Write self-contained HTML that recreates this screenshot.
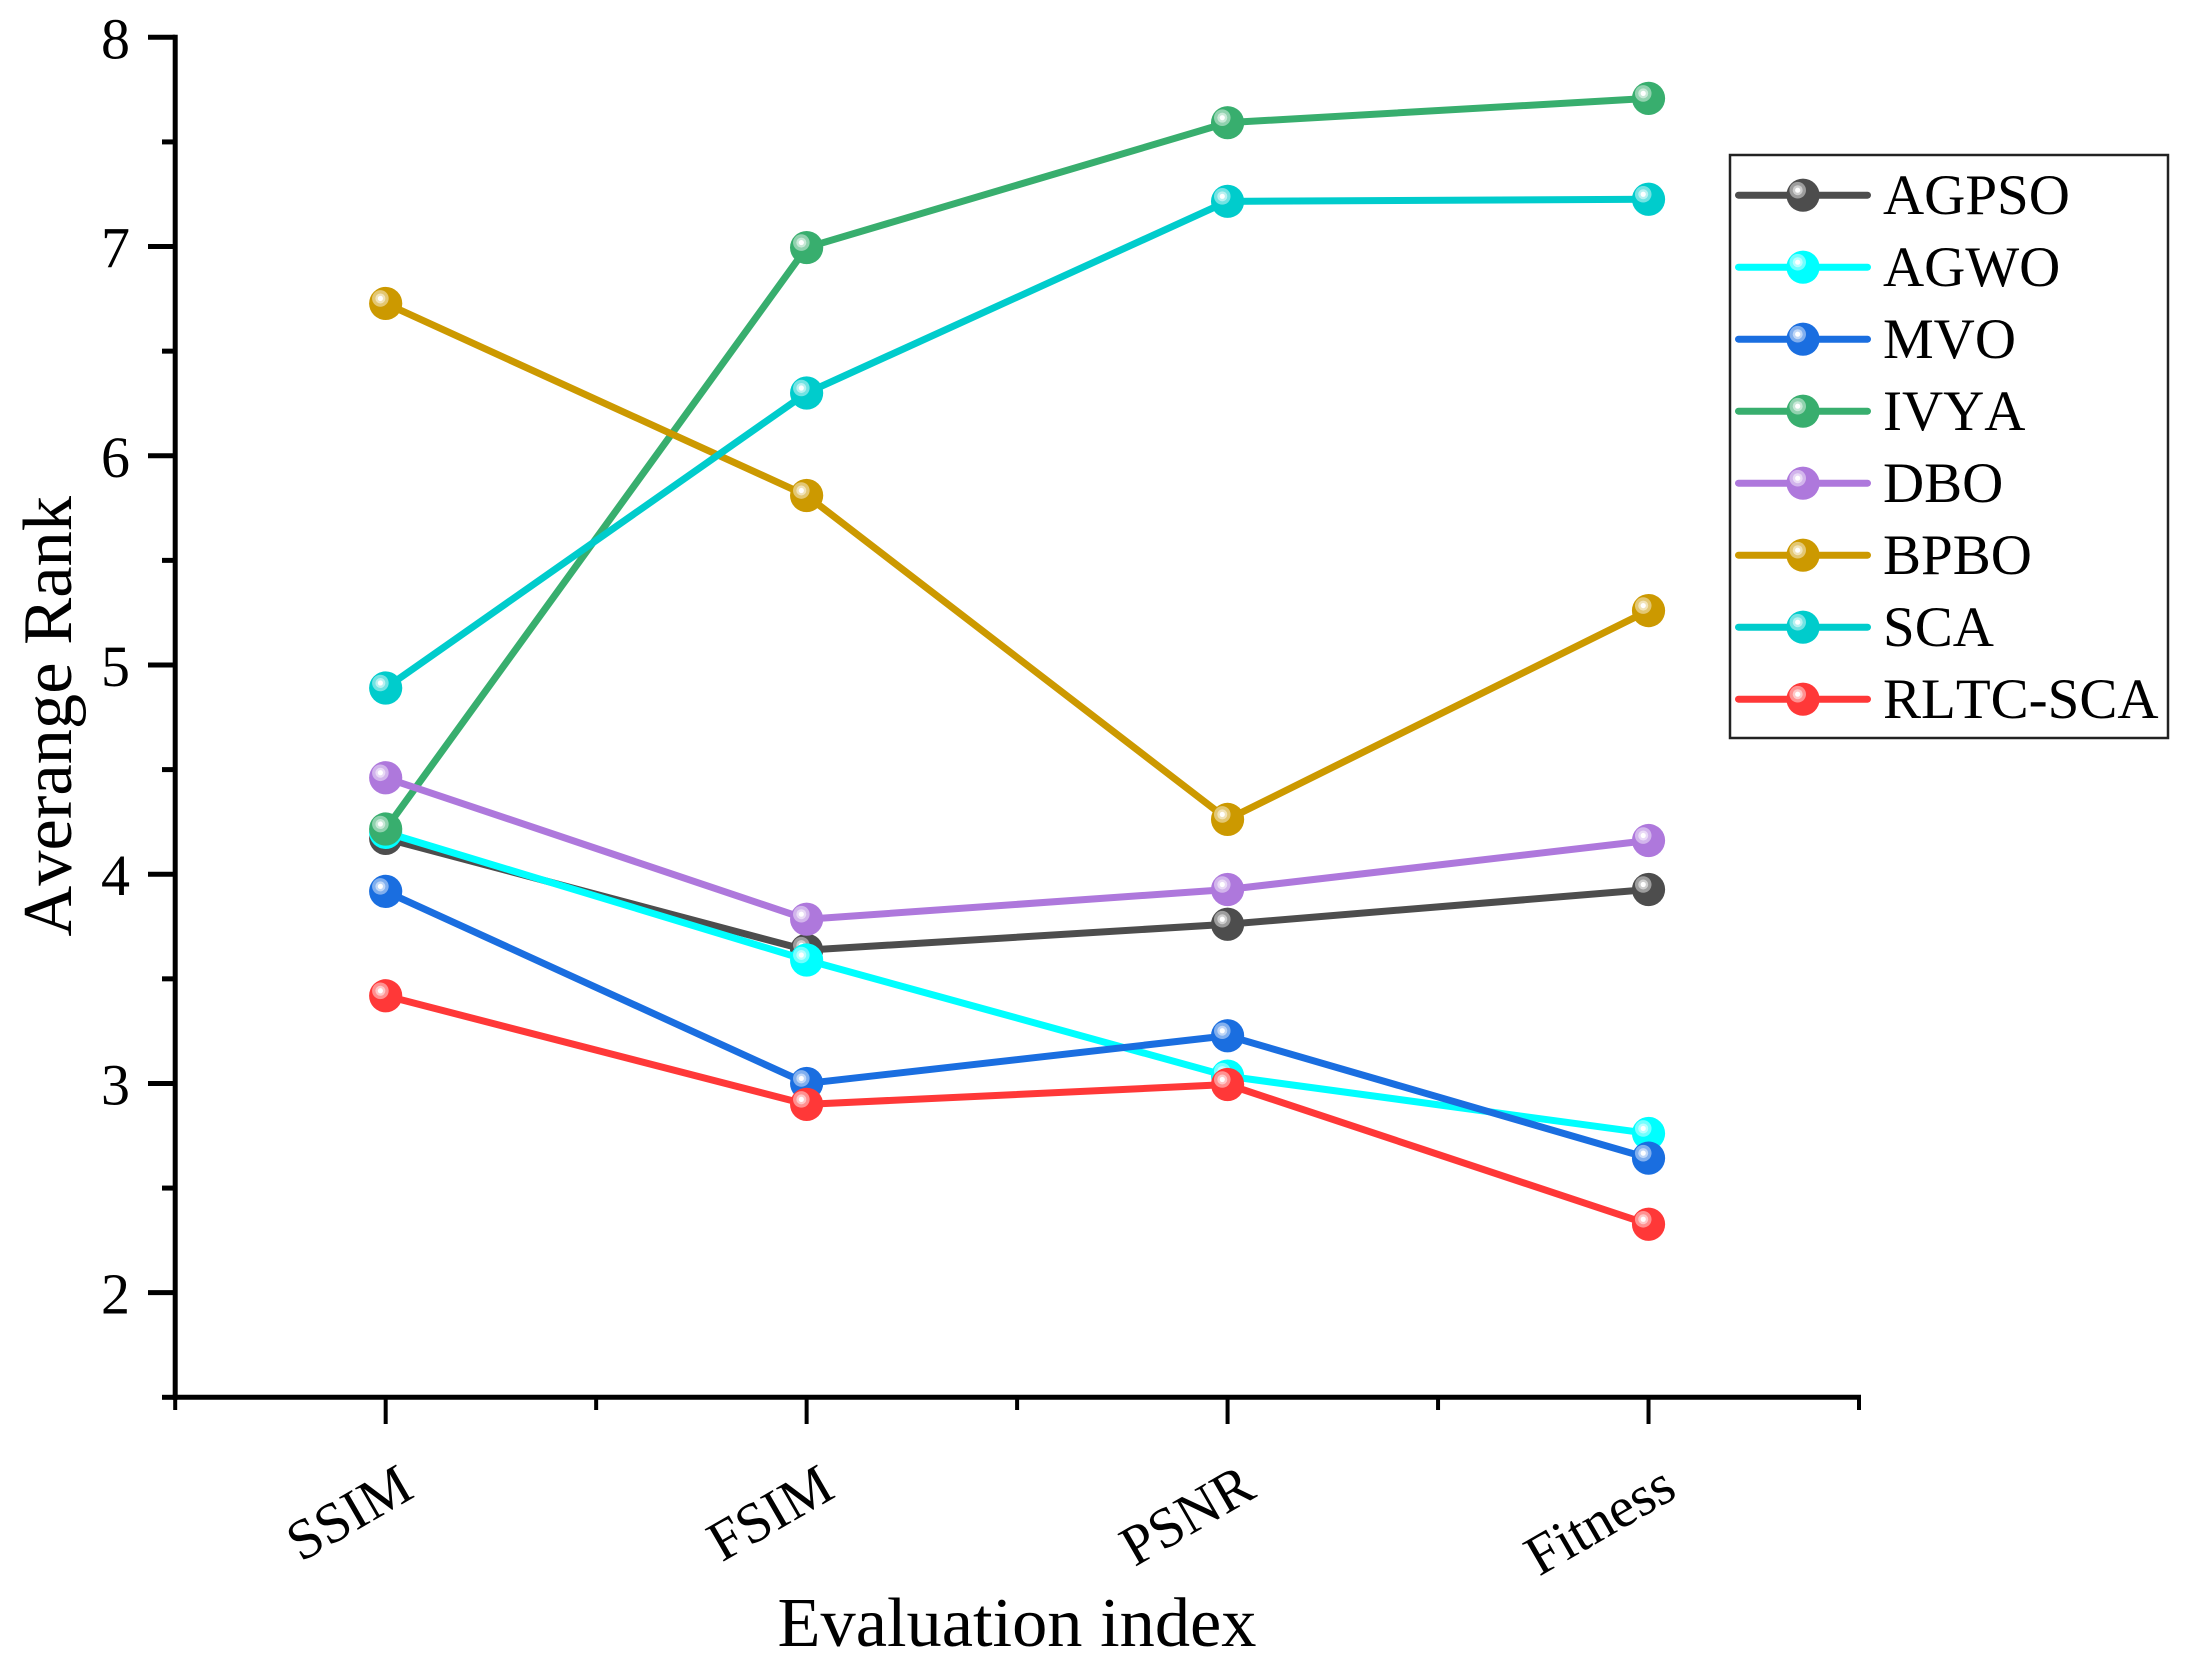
<!DOCTYPE html>
<html lang="en">
<head>
<meta charset="utf-8">
<title>Average Rank by Evaluation Index</title>
<style>
html,body{margin:0;padding:0;background:#fff;}
svg{display:block;font-family:"Liberation Serif",serif;fill:#000;font-kerning:none;}
</style>
</head>
<body>
<svg id="chart" xmlns="http://www.w3.org/2000/svg" width="2188" height="1675" viewBox="0 0 2188 1675">
  <rect x="0" y="0" width="2188" height="1675" fill="#fff"/>
  <g id="axes"></g>
  <g id="series"></g>
  <text x="1017" y="1646" font-size="70.4" text-anchor="middle">Evaluation index</text>
  <text transform="translate(71 716.3) rotate(-90) scale(1.008 1)" font-size="70" text-anchor="middle">Averange Rank</text>
  <g id="legend">
    <rect x="1730" y="155" width="438" height="583" fill="#fff" stroke="#222" stroke-width="2.5"/>
  </g>
</svg>
<script>
var categories = ['SSIM', 'FSIM', 'PSNR', 'Fitness'];
var yTickLabels = [2, 3, 4, 5, 6, 7, 8];
var yMinorTicks = [1.5, 2.5, 3.5, 4.5, 5.5, 6.5, 7.5];
var xMinorTicks = [0.5, 1.5, 2.5, 3.5, 4.5];
var seriesNames = ['AGPSO', 'AGWO', 'MVO', 'IVYA', 'DBO', 'BPBO', 'SCA', 'RLTC-SCA'];
var seriesColors = ['#4d4d4d', '#00ffff', '#1a6ee0', '#38ae6e', '#ae78dc', '#cc9900', '#00cccc', '#ff3838'];
var agpso = [4.171, 3.637, 3.761, 3.927];
var agwo = [4.20, 3.59, 3.035, 2.761];
var mvo = [3.918, 3.00, 3.228, 2.643];
var ivya = [4.216, 6.995, 7.592, 7.708];
var dbo = [4.461, 3.785, 3.927, 4.161];
var bpbo = [6.728, 5.81, 4.262, 5.26];
var sca = [4.89, 6.30, 7.216, 7.226];
var rltcSca = [3.419, 2.90, 2.995, 2.327];
var seriesValues = [agpso, agwo, mvo, ivya, dbo, bpbo, sca, rltcSca];

var NS = 'http://www.w3.org/2000/svg';
var PLOT_LEFT = 175.2, PLOT_RIGHT = 1859, PLOT_TOP = 37.3, PLOT_BOTTOM = 1397.3;
var X_MIN = 0.5, X_MAX = 4.5, Y_MIN = 1.5, Y_MAX = 8;

function xScale(v) { return PLOT_LEFT + (v - X_MIN) / (X_MAX - X_MIN) * (PLOT_RIGHT - PLOT_LEFT); }
function yScale(v) { return PLOT_BOTTOM - (v - Y_MIN) / (Y_MAX - Y_MIN) * (PLOT_BOTTOM - PLOT_TOP); }
function make(tag, attrs, parent) {
  var el = document.createElementNS(NS, tag);
  for (var k in attrs) el.setAttribute(k, attrs[k]);
  parent.appendChild(el);
  return el;
}
function slug(s) { return String(s).toLowerCase().replace(/[^a-z0-9]+/g, '-'); }

function drawMarker(parent, cx, cy, color, nameText) {
  var g = make('g', {}, parent);
  
  
  make('circle', {cx: cx, cy: cy, r: 16.6, fill: color}, g);
  make('circle', {cx: cx - 5.3, cy: cy - 5, r: 8.3, fill: '#fff', 'fill-opacity': 0.45}, g);
  make('circle', {cx: cx - 5.3, cy: cy - 5, r: 5, fill: '#fff', 'fill-opacity': 0.5}, g);
  make('circle', {cx: cx - 5.3, cy: cy - 5, r: 2.6, fill: '#fff'}, g);
}

var axes = document.getElementById('axes');

var yAxisLine = make('line', {x1: PLOT_LEFT, x2: PLOT_LEFT, y1: PLOT_TOP - 2.5, y2: PLOT_BOTTOM + 2.5, stroke: '#000', 'stroke-width': 5}, axes);



var xAxisLine = make('line', {x1: PLOT_LEFT - 2.5, x2: PLOT_RIGHT + 2, y1: PLOT_BOTTOM, y2: PLOT_BOTTOM, stroke: '#000', 'stroke-width': 5}, axes);



yTickLabels.forEach(function (v) {
  var y = yScale(v);
  var tick = make('line', {x1: 148, x2: PLOT_LEFT, y1: y, y2: y, stroke: '#000', 'stroke-width': 5}, axes);
  
  
  var label = make('text', {x: 130, y: y + 21, 'font-size': 58, 'text-anchor': 'end'}, axes);
  
  
  label.textContent = v;
});

yMinorTicks.forEach(function (v) {
  var y = yScale(v);
  var tick = make('line', {x1: 162, x2: PLOT_LEFT, y1: y, y2: y, stroke: '#000', 'stroke-width': 5}, axes);
  
  
});

xMinorTicks.forEach(function (v) {
  var x = xScale(v);
  var tick = make('line', {x1: x, x2: x, y1: PLOT_BOTTOM, y2: 1410, stroke: '#000', 'stroke-width': 4}, axes);
  
  
});

categories.forEach(function (c, i) {
  var x = xScale(i + 1);
  var tick = make('line', {x1: x, x2: x, y1: PLOT_BOTTOM, y2: 1424, stroke: '#000', 'stroke-width': 4}, axes);
  
  
  var label = make('text', {transform: 'translate(' + (x + 30.5) + ' 1496) rotate(-30)', 'font-size': 57, 'text-anchor': 'end'}, axes);
  
  
  label.textContent = c;
});

var seriesLayer = document.getElementById('series');
seriesNames.forEach(function (name, s) {
  var values = seriesValues[s];
  var color = seriesColors[s];
  var g = make('g', {}, seriesLayer);
  
  
  var pts = values.map(function (v, i) { return xScale(i + 1) + ',' + yScale(v); }).join(' ');
  var line = make('polyline', {points: pts, fill: 'none', stroke: color, 'stroke-width': 7, 'stroke-linejoin': 'round'}, g);
  
  
  values.forEach(function (v, i) {
    drawMarker(g, xScale(i + 1), yScale(v), color, 'point-' + slug(name) + '-' + slug(categories[i]));
  });
});

var legend = document.getElementById('legend');
seriesNames.forEach(function (name, s) {
  var y = 195.2 + s * 72;
  var g = make('g', {}, legend);
  
  
  make('line', {x1: 1738.5, x2: 1867.5, y1: y, y2: y, stroke: seriesColors[s], 'stroke-width': 7, 'stroke-linecap': 'round'}, g);
  drawMarker(g, 1803, y, seriesColors[s], 'legend-marker-' + slug(name));
  var label = make('text', {x: 1883, y: y + 19, 'font-size': 57}, g);
  
  
  label.textContent = name;
});
</script>
</body>
</html>
